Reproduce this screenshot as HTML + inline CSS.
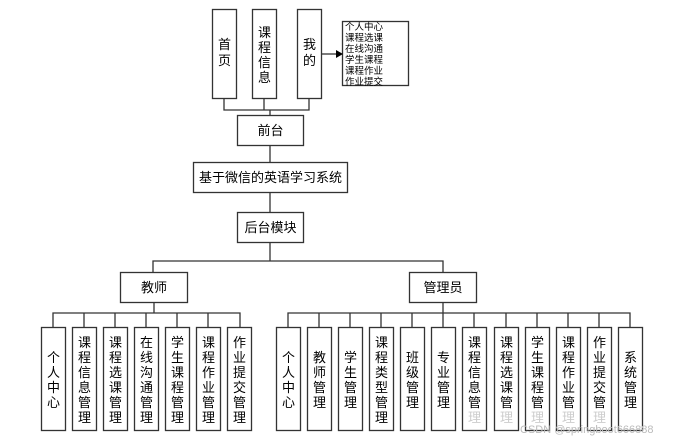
<!DOCTYPE html>
<html><head><meta charset="utf-8"><style>
html,body{margin:0;padding:0;background:#fff;}
svg{display:block;}
text{font-family:"Liberation Sans","Noto Sans CJK SC",sans-serif;fill:#000;}
</style></head><body>
<svg width="678" height="442" viewBox="0 0 678 442" xmlns="http://www.w3.org/2000/svg">
<g stroke="#333" stroke-width="1.3" fill="none">
<!-- top boxes -->
<rect x="212.5" y="9.5" width="24" height="89"/>
<rect x="252.5" y="9.5" width="24" height="89"/>
<rect x="297.5" y="9.5" width="24" height="89"/>
<rect x="342.5" y="21.5" width="66" height="64"/>
<path d="M224 98V110H309V98M264 98V110M270 110V115"/>
<path d="M321 54H336"/>
<rect x="237.5" y="115.5" width="66" height="30"/>
<path d="M270 145V162"/>
<rect x="193.5" y="162.5" width="154" height="30"/>
<path d="M270 192V212"/>
<rect x="237.5" y="212.5" width="66" height="30"/>
<path d="M270 242V261M153 273V261H443V273"/>
<rect x="120.5" y="272.5" width="67" height="30"/>
<rect x="409.5" y="272.5" width="67" height="30"/>
<path d="M154 302V313M53 327V313H240V327"/>
<path d="M84 313V327M115 313V327M146 313V327M177 313V327M208 313V327"/>
<path d="M443 302V313M288 327V313H630V327"/>
<path d="M319 313V327M350 313V327M381 313V327M412 313V327M443 313V327M474 313V327M506 313V327M537 313V327M568 313V327M599 313V327"/>
<g id="t">
<rect x="41.5" y="327.5" width="24" height="103"/>
<rect x="72.5" y="327.5" width="24" height="103"/>
<rect x="103.5" y="327.5" width="24" height="103"/>
<rect x="134.5" y="327.5" width="24" height="103"/>
<rect x="165.5" y="327.5" width="24" height="103"/>
<rect x="196.5" y="327.5" width="24" height="103"/>
<rect x="227.5" y="327.5" width="24" height="103"/>
</g>
<rect x="276.5" y="327.5" width="24" height="103"/>
<rect x="307.5" y="327.5" width="24" height="103"/>
<rect x="338.5" y="327.5" width="24" height="103"/>
<rect x="369.5" y="327.5" width="24" height="103"/>
<rect x="400.5" y="327.5" width="24" height="103"/>
<rect x="431.5" y="327.5" width="24" height="103"/>
<rect x="462.5" y="327.5" width="24" height="103"/>
<rect x="494.5" y="327.5" width="24" height="103"/>
<rect x="525.5" y="327.5" width="24" height="103"/>
<rect x="556.5" y="327.5" width="24" height="103"/>
<rect x="587.5" y="327.5" width="24" height="103"/>
<rect x="618.5" y="327.5" width="24" height="103"/>
</g>
<path d="M336 50L343 54L336 58Z" fill="#000"/>
<g font-size="13" text-anchor="middle">
<text x="224.5" y="49">首</text><text x="224.5" y="65">页</text>
<text x="264.5" y="37">课</text><text x="264.5" y="52">程</text><text x="264.5" y="67">信</text><text x="264.5" y="82">息</text>
<text x="309.5" y="49">我</text><text x="309.5" y="65">的</text>
<text x="270.5" y="135">前台</text>
<text x="270.5" y="182">基于微信的英语学习系统</text>
<text x="270.5" y="232">后台模块</text>
<text x="154" y="292">教师</text>
<text x="443" y="292">管理员</text>
</g>
<g font-size="9.5">
<text x="345" y="30">个人中心</text>
<text x="345" y="41">课程选课</text>
<text x="345" y="52">在线沟通</text>
<text x="345" y="63">学生课程</text>
<text x="345" y="74">课程作业</text>
<text x="345" y="85">作业提交</text>
</g>
<g font-size="13" text-anchor="middle">
<text x="53.5" y="362"><tspan x="53.5" dy="0">个</tspan><tspan x="53.5" dy="15">人</tspan><tspan x="53.5" dy="15">中</tspan><tspan x="53.5" dy="15">心</tspan></text>
<text x="84.5" y="347"><tspan x="84.5" dy="0">课</tspan><tspan x="84.5" dy="15">程</tspan><tspan x="84.5" dy="15">信</tspan><tspan x="84.5" dy="15">息</tspan><tspan x="84.5" dy="15">管</tspan><tspan x="84.5" dy="15">理</tspan></text>
<text x="115.5" y="347"><tspan x="115.5" dy="0">课</tspan><tspan x="115.5" dy="15">程</tspan><tspan x="115.5" dy="15">选</tspan><tspan x="115.5" dy="15">课</tspan><tspan x="115.5" dy="15">管</tspan><tspan x="115.5" dy="15">理</tspan></text>
<text x="146.5" y="347"><tspan x="146.5" dy="0">在</tspan><tspan x="146.5" dy="15">线</tspan><tspan x="146.5" dy="15">沟</tspan><tspan x="146.5" dy="15">通</tspan><tspan x="146.5" dy="15">管</tspan><tspan x="146.5" dy="15">理</tspan></text>
<text x="177.5" y="347"><tspan x="177.5" dy="0">学</tspan><tspan x="177.5" dy="15">生</tspan><tspan x="177.5" dy="15">课</tspan><tspan x="177.5" dy="15">程</tspan><tspan x="177.5" dy="15">管</tspan><tspan x="177.5" dy="15">理</tspan></text>
<text x="208.5" y="347"><tspan x="208.5" dy="0">课</tspan><tspan x="208.5" dy="15">程</tspan><tspan x="208.5" dy="15">作</tspan><tspan x="208.5" dy="15">业</tspan><tspan x="208.5" dy="15">管</tspan><tspan x="208.5" dy="15">理</tspan></text>
<text x="239.5" y="347"><tspan x="239.5" dy="0">作</tspan><tspan x="239.5" dy="15">业</tspan><tspan x="239.5" dy="15">提</tspan><tspan x="239.5" dy="15">交</tspan><tspan x="239.5" dy="15">管</tspan><tspan x="239.5" dy="15">理</tspan></text>

<text x="288.5" y="362"><tspan x="288.5" dy="0">个</tspan><tspan x="288.5" dy="15">人</tspan><tspan x="288.5" dy="15">中</tspan><tspan x="288.5" dy="15">心</tspan></text>
<text x="319.5" y="362"><tspan x="319.5" dy="0">教</tspan><tspan x="319.5" dy="15">师</tspan><tspan x="319.5" dy="15">管</tspan><tspan x="319.5" dy="15">理</tspan></text>
<text x="350.5" y="362"><tspan x="350.5" dy="0">学</tspan><tspan x="350.5" dy="15">生</tspan><tspan x="350.5" dy="15">管</tspan><tspan x="350.5" dy="15">理</tspan></text>
<text x="381.5" y="347"><tspan x="381.5" dy="0">课</tspan><tspan x="381.5" dy="15">程</tspan><tspan x="381.5" dy="15">类</tspan><tspan x="381.5" dy="15">型</tspan><tspan x="381.5" dy="15">管</tspan><tspan x="381.5" dy="15">理</tspan></text>
<text x="412.5" y="362"><tspan x="412.5" dy="0">班</tspan><tspan x="412.5" dy="15">级</tspan><tspan x="412.5" dy="15">管</tspan><tspan x="412.5" dy="15">理</tspan></text>
<text x="443.5" y="362"><tspan x="443.5" dy="0">专</tspan><tspan x="443.5" dy="15">业</tspan><tspan x="443.5" dy="15">管</tspan><tspan x="443.5" dy="15">理</tspan></text>
<text x="474.5" y="347"><tspan x="474.5" dy="0">课</tspan><tspan x="474.5" dy="15">程</tspan><tspan x="474.5" dy="15">信</tspan><tspan x="474.5" dy="15">息</tspan><tspan x="474.5" dy="15">管</tspan><tspan x="474.5" dy="15" fill="#ccc">理</tspan></text>
<text x="506.5" y="347"><tspan x="506.5" dy="0">课</tspan><tspan x="506.5" dy="15">程</tspan><tspan x="506.5" dy="15">选</tspan><tspan x="506.5" dy="15">课</tspan><tspan x="506.5" dy="15">管</tspan><tspan x="506.5" dy="15" fill="#ccc">理</tspan></text>
<text x="537.5" y="347"><tspan x="537.5" dy="0">学</tspan><tspan x="537.5" dy="15">生</tspan><tspan x="537.5" dy="15">课</tspan><tspan x="537.5" dy="15">程</tspan><tspan x="537.5" dy="15">管</tspan><tspan x="537.5" dy="15" fill="#ccc">理</tspan></text>
<text x="568.5" y="347"><tspan x="568.5" dy="0">课</tspan><tspan x="568.5" dy="15">程</tspan><tspan x="568.5" dy="15">作</tspan><tspan x="568.5" dy="15">业</tspan><tspan x="568.5" dy="15">管</tspan><tspan x="568.5" dy="15" fill="#ccc">理</tspan></text>
<text x="599.5" y="347"><tspan x="599.5" dy="0">作</tspan><tspan x="599.5" dy="15">业</tspan><tspan x="599.5" dy="15">提</tspan><tspan x="599.5" dy="15">交</tspan><tspan x="599.5" dy="15">管</tspan><tspan x="599.5" dy="15" fill="#ccc">理</tspan></text>
<text x="630.5" y="362"><tspan x="630.5" dy="0">系</tspan><tspan x="630.5" dy="15">统</tspan><tspan x="630.5" dy="15">管</tspan><tspan x="630.5" dy="15">理</tspan></text>
</g>
<text x="520" y="433" font-size="11" fill="#bbb" style="fill:#bbb">CSDN @springboot666888</text>
</svg>
</body></html>
